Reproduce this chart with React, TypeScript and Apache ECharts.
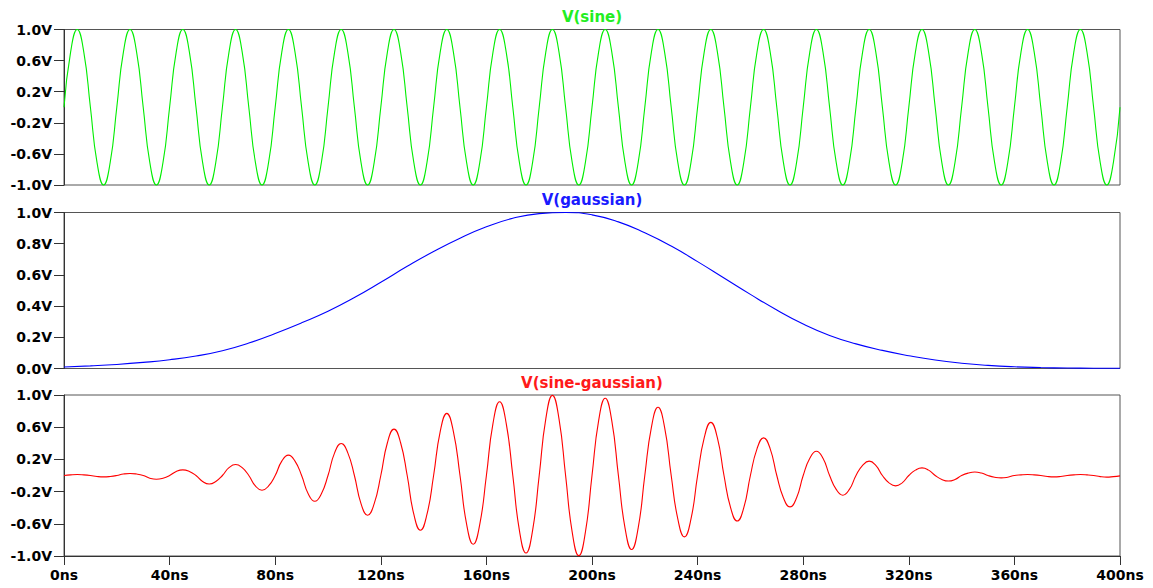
import React, { useEffect, useRef } from "react";
import * as echarts from "echarts";

// Time grids (ns)
const FINE_STEP_NS = 2.5; // sine and sine-gaussian samples
const GAUSS_STEP_NS = 10; // gaussian samples
const X_TICKS = [0, 40, 80, 120, 160, 200, 240, 280, 320, 360, 400];

// V(sine), samples every 2.5 ns
const SINE = [
  0, 0.71, 1, 0.71, 0, -0.71, -1, -0.71,
  0, 0.71, 1, 0.71, 0, -0.71, -1, -0.71,
  0, 0.71, 1, 0.71, 0, -0.71, -1, -0.71,
  0, 0.71, 1, 0.71, 0, -0.71, -1, -0.71,
  0, 0.71, 1, 0.71, 0, -0.71, -1, -0.71,
  0, 0.71, 1, 0.71, 0, -0.71, -1, -0.71,
  0, 0.71, 1, 0.71, 0, -0.71, -1, -0.71,
  0, 0.71, 1, 0.71, 0, -0.71, -1, -0.71,
  0, 0.71, 1, 0.71, 0, -0.71, -1, -0.71,
  0, 0.71, 1, 0.71, 0, -0.71, -1, -0.71,
  0, 0.71, 1, 0.71, 0, -0.71, -1, -0.71,
  0, 0.71, 1, 0.71, 0, -0.71, -1, -0.71,
  0, 0.71, 1, 0.71, 0, -0.71, -1, -0.71,
  0, 0.71, 1, 0.71, 0, -0.71, -1, -0.71,
  0, 0.71, 1, 0.71, 0, -0.71, -1, -0.71,
  0, 0.71, 1, 0.71, 0, -0.71, -1, -0.71,
  0, 0.71, 1, 0.71, 0, -0.71, -1, -0.71,
  0, 0.71, 1, 0.71, 0, -0.71, -1, -0.71,
  0, 0.71, 1, 0.71, 0, -0.71, -1, -0.71,
  0, 0.71, 1, 0.71, 0, -0.71, -1, -0.71,
  0,
];

// V(gaussian), samples every 10 ns
const GAUSSIAN = [
  0.01, 0.017, 0.026, 0.039, 0.056, 0.08, 0.114, 0.163, 0.225, 0.293,
  0.367, 0.455, 0.553, 0.655, 0.75, 0.835, 0.908, 0.963, 0.993, 1.0,
  0.985, 0.94, 0.87, 0.785, 0.685, 0.58, 0.475, 0.375, 0.285, 0.212,
  0.158, 0.116, 0.082, 0.054, 0.034, 0.02, 0.011, 0.006, 0.003, 0.002,
  0.002,
];

// V(sine-gaussian), samples every 2.5 ns
const SINE_GAUSSIAN = [
  0, 0.008, 0.012, 0.008, 0, -0.012, -0.017, -0.012,
  0, 0.018, 0.025, 0.018, 0, -0.033, -0.046, -0.033,
  0, 0.05, 0.07, 0.05, 0, -0.074, -0.105, -0.074,
  0, 0.097, 0.137, 0.097, 0, -0.13, -0.183, -0.13,
  0, 0.179, 0.253, 0.179, 0, -0.226, -0.32, -0.226,
  0, 0.281, 0.398, 0.281, 0, -0.349, -0.494, -0.349,
  0, 0.407, 0.576, 0.407, 0, -0.481, -0.68, -0.481,
  0, 0.546, 0.772, 0.546, 0, -0.604, -0.854, -0.604,
  0, 0.648, 0.917, 0.648, 0, -0.681, -0.963, -0.681,
  0, 0.703, 0.995, 0.703, 0, -0.703, -0.995, -0.703,
  0, 0.678, 0.959, 0.678, 0, -0.65, -0.92, -0.65,
  0, 0.599, 0.847, 0.599, 0, -0.539, -0.763, -0.539,
  0, 0.467, 0.66, 0.467, 0, -0.4, -0.565, -0.4,
  0, 0.331, 0.468, 0.331, 0, -0.276, -0.39, -0.276,
  0, 0.214, 0.302, 0.214, 0, -0.173, -0.245, -0.173,
  0, 0.126, 0.178, 0.126, 0, -0.091, -0.129, -0.091,
  0, 0.067, 0.095, 0.067, 0, -0.049, -0.069, -0.049,
  0, 0.03, 0.043, 0.03, 0, -0.021, -0.03, -0.021,
  0, 0.008, 0.012, 0.008, 0, -0.012, -0.017, -0.012,
  0, 0.008, 0.012, 0.008, 0, -0.014, -0.02, -0.014,
  -0.005,
];

const TITLES = ["V(sine)", "V(gaussian)", "V(sine-gaussian)"];
const COLORS = ["#00ee00", "#0000ff", "#ff0000"];
const TITLE_COLORS = ["#22ee22", "#1a1aff", "#ff1a1a"];

const FONT = '"DejaVu Sans", Verdana, sans-serif';

function toPairs(values: number[], step: number): [number, number][] {
  return values.map((v, i) => [i * step, v]);
}

export default function App() {
  const ref = useRef<HTMLDivElement>(null);

  useEffect(() => {
    if (!ref.current) return;
    const chart = echarts.init(ref.current, undefined, { renderer: "svg" });

    const gridLeft = 64;
    const gridRight = 1153 - 1120;
    const grids = [
      { left: gridLeft, right: gridRight, top: 29.5, height: 155.5 },
      { left: gridLeft, right: gridRight, top: 212.5, height: 156 },
      { left: gridLeft, right: gridRight, top: 395, height: 161 },
    ].map((g) => ({
      ...g,
      show: true,
      borderColor: "#555",
      borderWidth: 1,
      backgroundColor: "#fff",
      containLabel: false,
    }));

    const axisLineStyle = { color: "#333", width: 1 };
    const labelStyle = {
      color: "#000",
      fontFamily: FONT,
      fontWeight: "bold" as const,
      fontSize: 14,
    };

    const xAxes = [0, 1, 2].map((i) => ({
      type: "value" as const,
      gridIndex: i,
      position: "bottom" as const,
      min: X_TICKS[0],
      max: X_TICKS[X_TICKS.length - 1],
      interval: 40,
      axisLine: { show: i === 2, onZero: false, lineStyle: axisLineStyle },
      axisTick: { show: i === 2, length: 9, inside: false, lineStyle: axisLineStyle },
      axisLabel: {
        show: i === 2,
        ...labelStyle,
        margin: 12,
        showMinLabel: true,
        showMaxLabel: true,
        formatter: (v: number) => `${v}ns`,
      },
      splitLine: { show: false },
    }));

    const yRanges = [
      { min: -1, max: 1, interval: 0.4 },
      { min: 0, max: 1, interval: 0.2 },
      { min: -1, max: 1, interval: 0.4 },
    ];

    const yAxes = yRanges.map((r, i) => ({
      type: "value" as const,
      gridIndex: i,
      position: "left" as const,
      min: r.min,
      max: r.max,
      interval: r.interval,
      axisLine: { show: true, onZero: false, lineStyle: axisLineStyle },
      axisTick: { show: true, length: 10, inside: false, lineStyle: axisLineStyle },
      axisLabel: {
        ...labelStyle,
        margin: 12,
        showMinLabel: true,
        showMaxLabel: true,
        formatter: (v: number) => `${v.toFixed(1)}V`,
      },
      splitLine: { show: false },
    }));

    const seriesData = [
      toPairs(SINE, FINE_STEP_NS),
      toPairs(GAUSSIAN, GAUSS_STEP_NS),
      toPairs(SINE_GAUSSIAN, FINE_STEP_NS),
    ];

    const series = seriesData.map((d, i) => ({
      type: "line" as const,
      name: TITLES[i],
      xAxisIndex: i,
      yAxisIndex: i,
      data: d,
      smooth: 0.5,
      showSymbol: false,
      symbol: "none",
      clip: false,
      lineStyle: { color: COLORS[i], width: 1.1 },
      z: 3,
    }));

    const titleY = [17, 200, 383];
    const graphic = TITLES.map((t, i) => ({
      type: "text" as const,
      x: 592,
      y: titleY[i],
      style: {
        text: t,
        fill: TITLE_COLORS[i],
        font: `bold 15px ${FONT}`,
        align: "center",
        verticalAlign: "middle",
        textAlign: "center",
        textVerticalAlign: "middle",
      },
    }));

    chart.setOption({
      animation: false,
      backgroundColor: "#fff",
      grid: grids,
      xAxis: xAxes,
      yAxis: yAxes,
      series,
      graphic,
    });

    return () => chart.dispose();
  }, []);

  return (
    <div
      ref={ref}
      style={{ position: "fixed", left: 0, top: 0, width: 1153, height: 588 }}
    />
  );
}
